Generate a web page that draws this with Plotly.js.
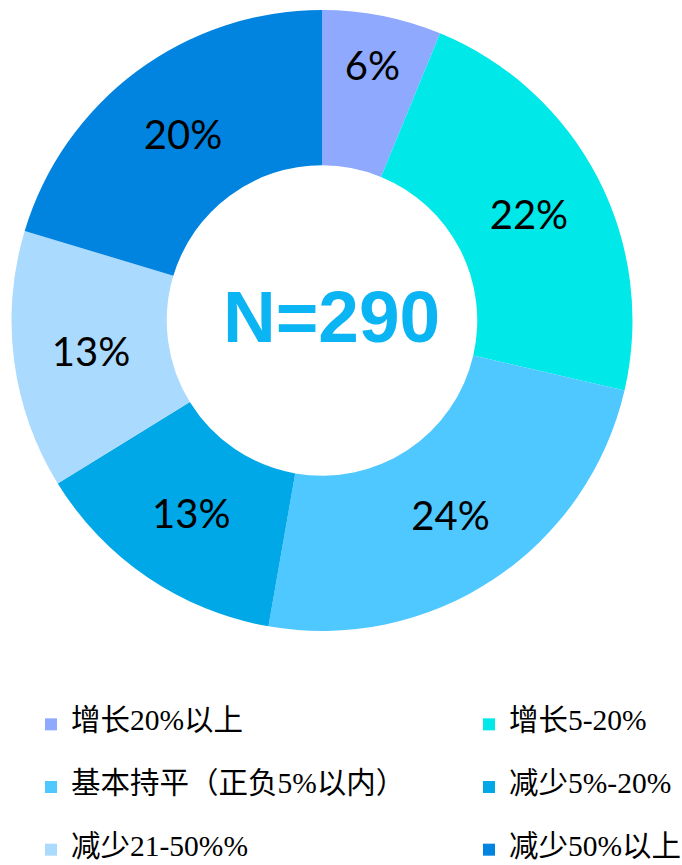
<!DOCTYPE html>
<html>
<head>
<meta charset="utf-8">
<script src="https://cdn.plot.ly/plotly-3.0.1.min.js"></script>
<style>html,body{margin:0;padding:0;background:#fff;overflow:hidden;}#chart{width:940px;height:865px;}</style>
</head>
<body>
<div id="chart"></div>
<script>
// Data (estimated counts out of N=290)
const categories = ['增长20%以上', '增长5-20%', '基本持平（正负5%以内）', '减少5%-20%', '减少21-50%%', '减少50%以上'];
const counts = [18, 65, 70, 39, 39, 59];
const colors = ['#8FA9FF', '#00E8E8', '#4FC7FF', '#00A8E8', '#ABDAFF', '#0084DF'];
const totalLabel = 'N=290';

const W = 940, H = 865;
const legendLabels = categories.map(c => ' <br><span style="font-size:29.5px">' + c + '</span><br> ');

const trace = {
  type: 'pie',
  values: counts,
  labels: legendLabels,
  marker: {colors: colors, line: {width: 0}},
  hole: 0.5,
  sort: false,
  direction: 'clockwise',
  rotation: 0,
  texttemplate: '%{percent:.0%}',
  textposition: 'inside',
  insidetextorientation: 'horizontal',
  textfont: {family: 'Lato, "Liberation Sans", sans-serif', size: 40, color: '#000'},
  domain: {x: [11/W, 633/W], y: [(H-631)/H, (H-10)/H]},
  hoverinfo: 'none'
};

const layout = {
  width: W, height: H,
  margin: {l: 0, r: 0, t: 0, b: 0, autoexpand: false},
  paper_bgcolor: '#fff',
  showlegend: true,
  legend: {
    orientation: 'h',
    x: 31/W, xanchor: 'left',
    y: (H-688)/H, yanchor: 'top',
    entrywidth: 393, entrywidthmode: 'pixels',
    font: {family: '"Liberation Serif", "Noto Sans CJK SC", serif', size: 15.3, color: '#000'},
    traceorder: 'normal'
  },
  annotations: [{
    text: '<b>' + totalLabel + '</b>',
    x: 331/W, y: (H-316)/H, xref: 'paper', yref: 'paper',
    showarrow: false,
    font: {family: '"Liberation Sans", Arial, sans-serif', size: 73, color: '#0BB4F2'}
  }]
};

Plotly.newPlot('chart', [trace], layout, {displayModeBar: false, staticPlot: true});
</script>
</body>
</html>
